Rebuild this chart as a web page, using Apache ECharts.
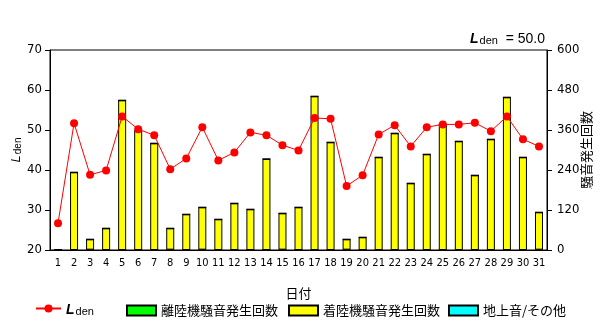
<!DOCTYPE html>
<html><head><meta charset="utf-8">
<script src="https://cdn.jsdelivr.net/npm/echarts@6/dist/echarts.min.js"></script>
<style>html,body{margin:0;padding:0;background:#fff}#c{width:600px;height:329px}</style>
</head><body><div id="c"></div>
<script>
const days = ['1','2','3','4','5','6','7','8','9','10','11','12','13','14','15','16','17','18','19','20','21','22','23','24','25','26','27','28','29','30','31'];
const lden = [26.7,51.7,38.8,39.9,53.4,50.2,48.7,40.2,42.9,50.7,42.4,44.4,49.4,48.7,46.2,44.9,53.0,52.8,36.0,38.7,48.9,51.2,45.9,50.7,51.4,51.4,51.8,49.7,53.4,47.7,45.9];
const departures = [0,0,1,0,0,0,0,1,0,1,0,0,0,0,1,0,0,0,1,0,0,0,0,0,0,0,0,0,0,0,1];
const arrivals = [0,233,31,65,449,357,320,64,107,127,92,140,122,273,109,128,461,323,31,38,278,350,200,287,377,326,224,332,458,278,112];
const ground = [0,0,0,0,0,0,0,0,0,0,0,0,0,0,0,0,0,0,0,0,0,0,0,0,0,0,0,0,0,0,0];
const leftTicks = {min:20,max:70,interval:10};
const rightTicks = {min:0,max:600,interval:120};
const ldenMonthly = '50.0';

const FONT = "'Noto Sans CJK JP','Liberation Sans',sans-serif";
const NUMFONT = "'Liberation Sans Narrow','DejaVu Sans Condensed','Liberation Sans',sans-serif";
const chart = echarts.init(document.getElementById('c'));
const ldenRich = {
  l:{fontFamily:'Liberation Sans',fontStyle:'italic',fontWeight:'bold',fontSize:14,color:'#000',verticalAlign:'bottom'},
  s:{fontFamily:'Liberation Sans',fontWeight:'normal',fontSize:11,color:'#000',padding:[6,0,0,1],verticalAlign:'bottom'}
};
const axisRich = {
  l:{fontFamily:'Liberation Sans',fontStyle:'italic',fontWeight:'normal',fontSize:13,color:'#000',verticalAlign:'bottom'},
  s:{fontFamily:'Liberation Sans',fontWeight:'normal',fontSize:10,color:'#000',padding:[5,0,0,1],verticalAlign:'bottom'}
};
const legendBase = {bottom:12,padding:0,itemWidth:29,itemHeight:10,itemGap:6,icon:'rect',textStyle:{fontFamily:FONT,fontSize:13,color:'#000'},selectedMode:false};
chart.setOption({
  animation:false,
  backgroundColor:'#fff',
  title:{
    text:'{l|L}{s|den}{t|  = '+ldenMonthly+'}',
    right:55, top:29, padding:0,
    textStyle:{fontWeight:'normal',rich:Object.assign({t:{fontFamily:'Liberation Sans',fontWeight:'normal',fontSize:14,color:'#000',verticalAlign:'bottom'}},ldenRich)}
  },
  grid:{left:50,right:53,top:50,bottom:79,show:true,borderColor:'#000',borderWidth:1,containLabel:false,outerBoundsMode:'none'},
  legend:[
    Object.assign({},legendBase,{left:35,data:['Lden'],icon:null,itemWidth:25,itemHeight:10,
      formatter:()=>'{l|L}{s|den}',textStyle:{rich:ldenRich}}),
    Object.assign({},legendBase,{left:126,data:['離陸機騒音発生回数']}),
    Object.assign({},legendBase,{left:288,data:['着陸機騒音発生回数']}),
    Object.assign({},legendBase,{left:448,data:['地上音/その他']})
  ],
  xAxis:{
    type:'category',data:days,name:'日付',nameLocation:'middle',nameGap:37,
    nameTextStyle:{fontFamily:FONT,fontSize:13,color:'#000'},
    axisLine:{lineStyle:{color:'#000'}},
    axisTick:{alignWithLabel:true,length:4,lineStyle:{color:'#000'}},
    axisLabel:{interval:0,fontFamily:NUMFONT,fontSize:11,color:'#000',margin:8}
  },
  yAxis:[
    {type:'value',min:leftTicks.min,max:leftTicks.max,interval:leftTicks.interval,
     name:'{l|L}{s|den}',nameLocation:'middle',nameGap:27,nameRotate:90,nameMoveOverlap:false,
     nameTextStyle:{rich:axisRich},
     axisLine:{show:true,lineStyle:{color:'#000'}},axisTick:{show:true,length:5,lineStyle:{color:'#000'}},
     splitLine:{show:false},axisLabel:{fontFamily:NUMFONT,fontSize:13,color:'#000',margin:8}},
    {type:'value',min:rightTicks.min,max:rightTicks.max,interval:rightTicks.interval,
     name:'騒音発生回数',nameLocation:'middle',nameGap:33,nameRotate:90,nameMoveOverlap:false,
     nameTextStyle:{fontFamily:FONT,fontSize:13,color:'#000'},
     axisLine:{show:true,lineStyle:{color:'#000'}},axisTick:{show:true,length:5,lineStyle:{color:'#000'}},
     splitLine:{show:false},axisLabel:{fontFamily:NUMFONT,fontSize:13,color:'#000',margin:10}}
  ],
  series:[
    {name:'離陸機騒音発生回数',type:'bar',yAxisIndex:1,stack:'n',data:departures,barWidth:8,
     itemStyle:{color:'#00ff00',borderColor:'#000',borderWidth:1}},
    {name:'着陸機騒音発生回数',type:'bar',yAxisIndex:1,stack:'n',data:arrivals,barWidth:8,
     itemStyle:{color:'#ffff00',borderColor:'#000',borderWidth:1}},
    {name:'地上音/その他',type:'bar',yAxisIndex:1,stack:'n',data:ground,barWidth:8,
     itemStyle:{color:'#00ffff',borderColor:'#000',borderWidth:1}},
    {name:'Lden',type:'line',yAxisIndex:0,data:lden,symbol:'circle',symbolSize:8,z:5,
     lineStyle:{color:'#ff0000',width:1},itemStyle:{color:'#ff0000'}}
  ]
});
</script></body></html>
